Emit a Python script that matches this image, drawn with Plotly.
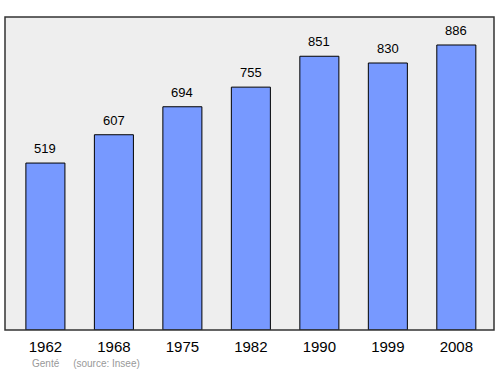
import plotly.graph_objects as go

years = ["1962", "1968", "1975", "1982", "1990", "1999", "2008"]
population = [519, 607, 694, 755, 851, 830, 886]
labels = [str(v) for v in population]

FONT = "Liberation Sans, Arial, sans-serif"

fig = go.Figure()
fig.add_trace(go.Bar(
    x=years, y=population,
    marker=dict(color="#7799ff", line=dict(color="#000000", width=1)),
    width=0.57,
    hoverinfo="skip",
))
for i, (v, t) in enumerate(zip(population, labels)):
    fig.add_annotation(x=i, y=v, xref="x", yref="y", text=t, showarrow=False, yanchor="bottom",
                       yshift=5, font=dict(family=FONT, size=13, color="#000"))

fig.add_shape(type="rect", xref="paper", yref="paper", x0=0, y0=0, x1=1, y1=1,
              line=dict(color="#333333", width=1.5), layer="above")

fig.add_annotation(xref="paper", yref="paper", x=25/489, y=-44/313, xanchor="left", yanchor="bottom",
                   yshift=3,
                   text="Genté&nbsp;&nbsp;&nbsp;&nbsp;&nbsp;(source: Insee)", showarrow=False,
                   font=dict(family=FONT, size=10, color="#999999"))

fig.update_layout(
    width=500, height=374,
    margin=dict(l=5, r=6, t=17, b=44),
    paper_bgcolor="#ffffff",
    plot_bgcolor="#eeeeee",
    showlegend=False,
    xaxis=dict(type="category", range=[-0.59, 6.55], showgrid=False, zeroline=False, showline=False,
               ticks="outside", ticklen=3, tickcolor="rgba(0,0,0,0)",
               tickfont=dict(family=FONT, size=15, color="#000")),
    yaxis=dict(range=[0, 973], showgrid=False, zeroline=False, showticklabels=False, showline=False),
)
fig.write_html("out.html")
